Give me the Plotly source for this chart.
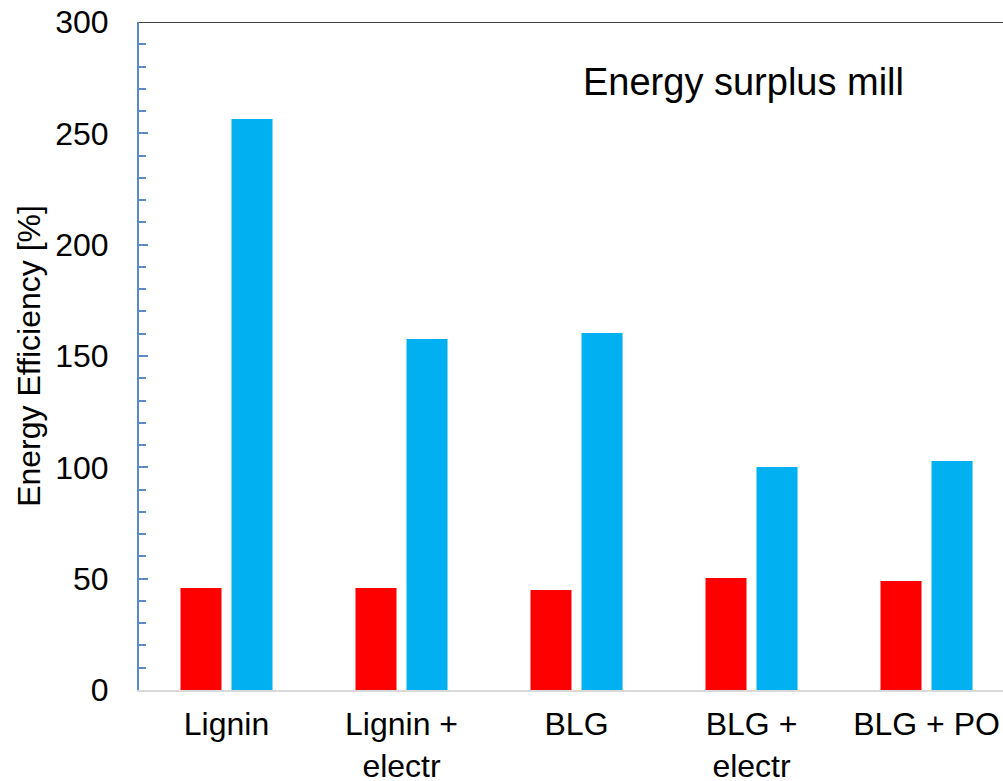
import plotly.graph_objects as go

categories = ["Lignin", "Lignin +<br>electr", "BLG", "BLG +<br>electr", "BLG + PO"]
series_red = [45.8, 45.8, 44.9, 50.3, 48.9]
series_blue = [256.4, 157.6, 160.3, 100.1, 102.8]
y_ticks = [0, 50, 100, 150, 200, 250, 300]

FONT = "Liberation Sans, Arial, sans-serif"

fig = go.Figure()
fig.add_trace(go.Bar(x=categories, y=series_red, marker=dict(color="#FF0000", line=dict(width=0)), showlegend=False))
fig.add_trace(go.Bar(x=categories, y=series_blue, marker=dict(color="#00B0F0", line=dict(width=0)), showlegend=False))

fig.update_layout(
    width=1003, height=781,
    margin=dict(l=139, r=0, t=22, b=91, pad=0, autoexpand=False),
    plot_bgcolor="white", paper_bgcolor="white",
    barmode="group", bargap=0.417, bargroupgap=0.196,
    font=dict(family=FONT, color="black"),
)
fig.update_xaxes(
    type="category", range=[-0.5, 4.437], automargin=False,
    showline=True, linecolor="#D9D9D9", linewidth=2,
    ticks="", showgrid=False, zeroline=False,
    tickfont=dict(size=32, family=FONT, color="black"),
    ticklabelstandoff=5,
)
fig.update_yaxes(
    range=[0, 300], tickvals=y_ticks, automargin=False,
    showline=True, linecolor="#5B8BC9", linewidth=2,
    ticks="inside", ticklen=9, tickwidth=2, tickcolor="#5B8BC9",
    minor=dict(ticks="inside", dtick=10, ticklen=7, tickwidth=2, tickcolor="#5B8BC9"),
    showgrid=False, zeroline=False,
    tickfont=dict(size=32, family=FONT, color="black"),
    ticklabelstandoff=22, ticklabeloverflow="allow",
    title=dict(text="Energy Efficiency [%]", font=dict(size=32, family=FONT, color="black"), standoff=5),
)
fig.add_shape(type="line", xref="paper", yref="y", x0=0, x1=1, y0=300, y1=300,
              line=dict(color="#404040", width=2))
fig.add_annotation(text="Energy surplus mill", xref="paper", yref="paper", x=0.700, y=0.910,
                   xanchor="center", yanchor="middle",
                   showarrow=False, font=dict(size=38, family=FONT, color="black"))

fig.write_html("out.html", config={"displayModeBar": False},
               post_script="document.body.style.margin='0px';document.body.style.overflow='hidden';")
